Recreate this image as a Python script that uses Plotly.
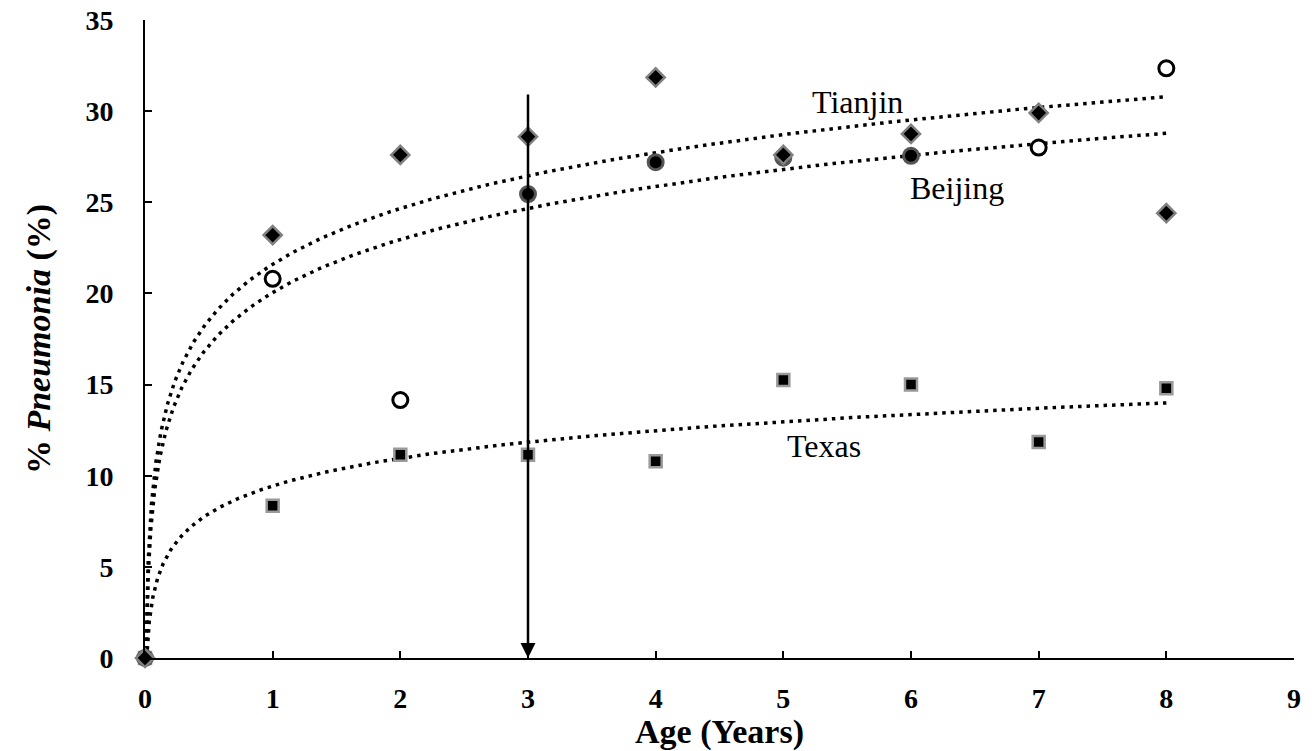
import numpy as np
import plotly.graph_objects as go

ages = [0, 1, 2, 3, 4, 5, 6, 7, 8]
tianjin = [0, 23.2, 27.6, 28.6, 31.85, 27.6, 28.75, 29.9, 24.4]
beijing = [0, 20.8, 14.15, 25.45, 27.2, 27.45, 27.55, 28.0, 32.35]
beijing_open = [False, True, True, False, False, False, False, True, True]
texas = [0, 8.35, 11.15, 11.15, 10.8, 15.25, 15.0, 11.85, 14.8]

# logarithmic trendline coefficients: y = a*ln(x) + b
trend_coef = {"Tianjin": (4.42, 21.6), "Beijing": (4.2, 20.05), "Texas": (2.19, 9.44)}
labels = {"Tianjin": (5.58, 30.5), "Beijing": (6.36, 25.8), "Texas": (5.32, 11.65)}
arrow_x, arrow_top = 3, 31.0

fig = go.Figure()

for name, (a, b) in trend_coef.items():
    x0 = np.exp(-b / a)
    xs = np.geomspace(x0, 8, 400)
    ys = a * np.log(xs) + b
    fig.add_trace(go.Scatter(x=xs, y=ys, mode="lines",
                             line=dict(color="black", width=3.5, dash="3.5px,5px"),
                             hoverinfo="skip", showlegend=False))

fig.add_trace(go.Scatter(x=ages, y=texas, mode="markers", name="Texas", cliponaxis=False,
                         marker=dict(symbol="square", size=12, color="black",
                                     line=dict(color="#9a9a9a", width=2.5))))
fig.add_trace(go.Scatter(x=ages, y=beijing, mode="markers", name="Beijing", cliponaxis=False,
                         marker=dict(symbol="circle", size=15,
                                     color=["white" if o else "black" for o in beijing_open],
                                     line=dict(color=["black" if o else "#555555" for o in beijing_open],
                                               width=3))))
fig.add_trace(go.Scatter(x=ages, y=tianjin, mode="markers", name="Tianjin", cliponaxis=False,
                         marker=dict(symbol="diamond", size=14, color="black",
                                     line=dict(color="#808080", width=2.5))))

fig.add_annotation(x=arrow_x, y=0, ax=arrow_x, ay=arrow_top, xref="x", yref="y",
                   axref="x", ayref="y", text="", showarrow=True,
                   arrowhead=2, arrowsize=1.2, arrowwidth=2.5, arrowcolor="black",
                   standoff=0)

for name, (lx, ly) in labels.items():
    fig.add_annotation(x=lx, y=ly, text=name, showarrow=False, xref="x", yref="y",
                       font=dict(family="Liberation Serif", size=32, color="black"))

axis_font = dict(family="Liberation Serif", size=28, color="black", weight="bold")
fig.update_xaxes(range=[0, 9], tickvals=list(range(10)), showline=True, linecolor="black",
                 linewidth=2, ticks="inside", ticklen=7, tickwidth=2, tickcolor="black",
                 showgrid=False, zeroline=False, tickfont=axis_font, ticklabelstandoff=14,
                 title=dict(text="Age (Years)", standoff=0,
                            font=dict(family="Liberation Serif", size=34, color="black", weight="bold")))
fig.update_yaxes(range=[0, 35], tickvals=list(range(0, 36, 5)), showline=True, linecolor="black",
                 linewidth=2, ticks="inside", ticklen=7, tickwidth=2, tickcolor="black",
                 showgrid=False, zeroline=False, tickfont=axis_font, ticklabelstandoff=24,
                 title=dict(text="% <i>Pneumonia</i> (%)", standoff=25,
                            font=dict(family="Liberation Serif", size=34, color="black", weight="bold")))

fig.update_layout(width=1312, height=751, plot_bgcolor="white", paper_bgcolor="white",
                  margin=dict(l=145, r=18, t=20, b=93, autoexpand=False), showlegend=False)

fig.write_html("out.html", config={"displayModeBar": False},
               post_script="document.body.style.margin='0';document.body.style.padding='0';")
